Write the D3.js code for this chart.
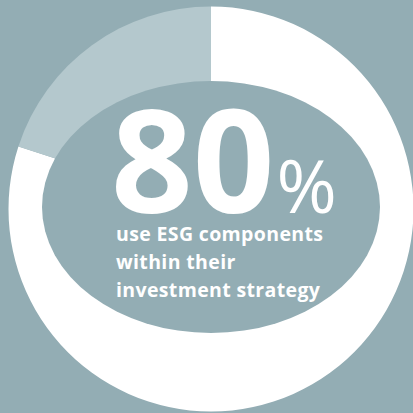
<!DOCTYPE html>
<html>
<head>
<meta charset="utf-8">
<script src="https://cdn.jsdelivr.net/npm/d3@7"></script>
<style>
  html, body { margin: 0; padding: 0; background: #93adb4; }
  svg { display: block; }
</style>
</head>
<body>
<svg id="chart" width="413" height="413"></svg>
<script>
// Share of respondents
const categories = ["use ESG components", "do not"];
const values = [80, 20];
const headline = "80";
const captionLines = ["use ESG components", "within their", "investment strategy"];

const W = 413, H = 413;
const bg = "#93adb4";
const colors = d3.scaleOrdinal().domain(categories).range(["#ffffff", "#b4c8cd"]);

const svg = d3.select("#chart");
svg.append("rect").attr("width", W).attr("height", H).attr("fill", bg);

const cx = 211, cy = 209, R = 202.5;

const pie = d3.pie().sort(null).value(d => d.v);
const arc = d3.arc().innerRadius(0).outerRadius(R);

const slices = pie(categories.map((c, i) => ({ c, v: values[i] })));

const g = svg.append("g").attr("transform", `translate(${cx},${cy})`);
g.selectAll("path.slice")
  .data(slices)
  .join("path")
  .attr("class", "slice")
  .attr("d", arc)
  .attr("fill", d => colors(d.data.c));

// oval hole in the ring
svg.append("ellipse")
  .attr("cx", 211).attr("cy", 207)
  .attr("rx", 169).attr("ry", 126)
  .attr("fill", bg);

// headline figure
const big = svg.append("text")
  .attr("x", 111).attr("y", 213)
  .attr("fill", "#fff")
  .attr("font-family", "'Open Sans', sans-serif")
  .attr("font-weight", 700)
  .attr("font-size", 143)
  .attr("letter-spacing", 0)
  .text(headline);

const bigW = big.node().getComputedTextLength();
svg.append("text")
  .attr("x", 111 + bigW + 2).attr("y", 213)
  .attr("fill", "#fff")
  .attr("font-family", "'Open Sans', sans-serif")
  .attr("font-weight", 400)
  .attr("font-size", 73)
  .text("%");

// caption
const caption = svg.append("g")
  .selectAll("text")
  .data(captionLines)
  .join("text")
  .attr("x", 116)
  .attr("y", (d, i) => 240.5 + i * 28.3)
  .attr("fill", "#fff")
  .attr("font-family", "'Open Sans', sans-serif")
  .attr("font-weight", 700)
  .attr("font-size", 19.5)
  .text(d => d);

// spread the caption so its first line spans the hole's text column
const firstW = caption.nodes()[0].getComputedTextLength();
const spacing = (207 - firstW) / (captionLines[0].length - 1);
caption.attr("letter-spacing", spacing);
</script>
</body>
</html>
